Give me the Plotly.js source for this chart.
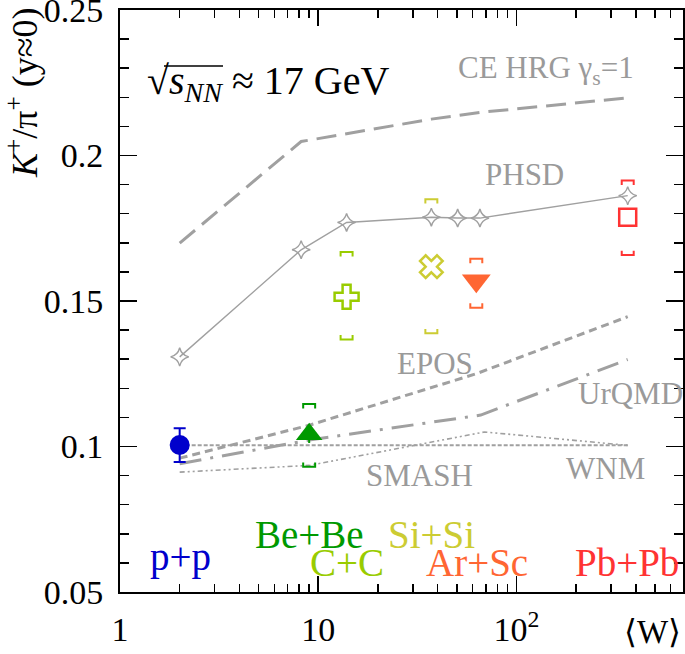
<!DOCTYPE html>
<html>
<head>
<meta charset="utf-8">
<script src="https://cdn.plot.ly/plotly-3.0.1.min.js"></script>
<style>html,body{margin:0;padding:0;background:#fff;}#chart{width:685px;height:654px;}</style>
</head>
<body>
<div id="chart"></div>
<script>
// ---------- data ----------
var systems   = ['p+p', 'Be+Be', 'C+C', 'Si+Si', 'Ar+Sc', 'Pb+Pb'];
var sysW      = [2.0, 9.0, 13.9, 37.2, 62.7, 364];
var sysRatio  = [0.1005, 0.1042, 0.1515, 0.1618, 0.1570, 0.1788];
var statErr   = [0.0058, 0.0030, 0, 0, 0, 0];
var sysHigh   = [null, 0.1146, 0.1668, 0.1850, 0.1645, 0.1914];
var sysLow    = [null, 0.0930, 0.1368, 0.1389, 0.1477, 0.1658];
var sysColors = ['#0000cc', '#009900', '#99cc00', '#cccc33', '#ff6633', '#ff3333'];
var sysSymbols= ['circle', 'triangle-up', 'cross-open', 'x-open', 'triangle-down', 'square-open'];

var phsdW = [2.0, 8.2, 13.9, 37.2, 50.5, 65.4, 364];
var phsdY = [0.1308, 0.1676, 0.1770, 0.1788, 0.1785, 0.1785, 0.1862];

var ceW = [2.0, 8.2, 13.9, 37.2, 65.4, 364];
var ceY = [0.1699, 0.2048, 0.2075, 0.2125, 0.2148, 0.2198];

var eposW = [2.0, 9.0, 62.7, 364];
var eposY = [0.0960, 0.1073, 0.1250, 0.1446];

var urqmdW = [2.0, 9.0, 66, 364];
var urqmdY = [0.0941, 0.1022, 0.1108, 0.1299];

var smashW = [2.0, 9.0, 69, 364];
var smashY = [0.0912, 0.0935, 0.1050, 0.1004];

var wnmW = [2.0, 364];
var wnmY = [0.1004, 0.1004];

var xTickVals = [1, 10, 100];
var xTickText = ['1', '10', '10<sup>2</sup>'];
var xMinorVals = [2,3,4,5,6,7,8,9,20,30,40,50,60,70,80,90,200,300,400,500,600];
var yTickVals = [0.05, 0.1, 0.15, 0.2, 0.25];
var yTickText = ['0.05', '0.1', '0.15', '0.2', '0.25'];

// ---------- styling ----------
var FONT = 'Liberation Serif, Times New Roman, serif';
var GRAY = '#a0a0a0';
var GRAYTXT = '#9a9a9a';

var traces = [];

function modelLine(xs, ys, dash, width) {
  return {x: xs, y: ys, mode: 'lines', type: 'scatter', hoverinfo: 'skip',
          line: {color: GRAY, width: width, dash: dash}};
}
traces.push(modelLine(ceW, ceY, '20px,9px', 3));
traces.push(modelLine(eposW, eposY, '8px,5px', 3));
traces.push(modelLine(urqmdW, urqmdY, '22px,9px,3px,9px', 3));
traces.push(modelLine(smashW, smashY, '5px,3px,2px,3px,2px,3px', 1.6));
traces.push(modelLine(wnmW, wnmY, '4px,2px', 2));
traces.push({x: phsdW, y: phsdY, mode: 'lines+markers', type: 'scatter', hoverinfo: 'skip',
  line: {color: GRAY, width: 1.4},
  marker: {symbol: 'star-diamond-open', size: 13, color: GRAY, line: {color: '#8c8c8c', width: 1.4}}});

// systematic-uncertainty brackets built from the data arrays
var bf = 1.072;      // half width factor on log axis
var leg = 0.0015;    // leg length in y
for (var i = 0; i < systems.length; i++) {
  if (sysHigh[i] === null) continue;
  var w = sysW[i];
  traces.push({
    x: [w/bf, w/bf, w*bf, w*bf, null, w/bf, w/bf, w*bf, w*bf],
    y: [sysHigh[i]-leg, sysHigh[i], sysHigh[i], sysHigh[i]-leg, null,
        sysLow[i]+leg, sysLow[i], sysLow[i], sysLow[i]+leg],
    mode: 'lines', type: 'scatter', hoverinfo: 'skip',
    line: {color: sysColors[i], width: 2}
  });
}
// data points
var sizes = [20, 23, 20, 20, 25, 17];
for (var j = 0; j < systems.length; j++) {
  var open = sysSymbols[j].indexOf('open') >= 0;
  var tr = {x: [sysW[j]], y: [sysRatio[j]], mode: 'markers', type: 'scatter', hoverinfo: 'skip',
    marker: {symbol: sysSymbols[j], size: sizes[j], color: sysColors[j],
             line: {color: sysColors[j], width: open ? 2.5 : 0}}};
  if (statErr[j] > 0) {
    tr.error_y = {type: 'data', array: [statErr[j]], visible: true, color: sysColors[j],
                  thickness: 2, width: (j === 0 ? 6 : 0)};
  }
  traces.push(tr);
}

function px2paperX(px) { return (px - 120) / 563; }
function px2paperY(py) { return (592 - py) / 582; }

function label(text, cx, cy, size, color, extra) {
  var a = {text: text, xref: 'paper', yref: 'paper', x: px2paperX(cx), y: px2paperY(cy),
           xanchor: 'center', yanchor: 'middle', showarrow: false,
           font: {family: FONT, size: size, color: color}};
  if (extra) for (var k in extra) a[k] = extra[k];
  return a;
}

var annotations = [
  // system labels
  label(systems[0], 180, 557, 39, sysColors[0]),
  label(systems[1], 309, 534, 39, sysColors[1]),
  label(systems[2], 347, 562, 39, sysColors[2]),
  label(systems[3], 431, 534, 39, sysColors[3]),
  label(systems[4], 477, 562, 39, sysColors[4]),
  label(systems[5], 627, 562, 39, sysColors[5]),
  // model labels
  label('CE HRG γ<sub>s</sub>=1', 546, 70, 31, GRAYTXT),
  label('PHSD', 524, 174, 31, GRAYTXT),
  label('EPOS', 435, 363, 31, GRAYTXT),
  label('UrQMD', 630, 393, 31, GRAYTXT),
  label('SMASH', 419, 475, 31, GRAYTXT),
  label('WNM', 605, 468, 31, GRAYTXT),
  // energy
  label('√<i>s</i><sub><i>NN</i></sub> ≈ 17 GeV', 268, 83, 40, '#000'),
  // axis titles
  label('⟨W⟩', 654, 632, 33, '#000', {xanchor: 'right', x: 1.0}),
  label('<i>K</i><sup>+</sup>/π<sup>+</sup> (y≈0)', 22, 93, 36, '#000', {textangle: -90})
];

// overline of the square-root sign (decoration, paper coordinates)
var shapes = [{type: 'line', xref: 'paper', yref: 'paper',
  x0: px2paperX(164), x1: px2paperX(223), y0: px2paperY(66), y1: px2paperY(66),
  line: {color: '#000', width: 1.5}}];

var layout = {
  width: 685, height: 654,
  margin: {l: 120, r: 2, t: 10, b: 62, pad: 0},
  paper_bgcolor: '#fff', plot_bgcolor: '#fff',
  showlegend: false,
  font: {family: FONT, color: '#000'},
  xaxis: {
    type: 'log', range: [0, 2.84],
    tickmode: 'array', tickvals: xTickVals, ticktext: xTickText,
    ticks: 'inside', ticklen: 16, tickwidth: 1.5, tickcolor: '#000',
    showline: true, linewidth: 2, linecolor: '#000', mirror: 'allticks',
    showgrid: false, zeroline: false,
    tickfont: {family: FONT, size: 34, color: '#000'},
    ticklabelstandoff: 6, ticklabeloverflow: 'allow',
    minor: {tickmode: 'array', tickvals: xMinorVals, ticks: 'inside', ticklen: 8,
            tickwidth: 1.5, tickcolor: '#000', showgrid: false}
  },
  yaxis: {
    range: [0.05, 0.25], tickmode: 'array', tickvals: yTickVals, ticktext: yTickText,
    ticks: 'inside', ticklen: 17, tickwidth: 1.5, tickcolor: '#000',
    showline: true, linewidth: 2, linecolor: '#000', mirror: 'allticks',
    showgrid: false, zeroline: false,
    tickfont: {family: FONT, size: 34, color: '#000'},
    ticklabelstandoff: 8, ticklabeloverflow: 'allow',
    minor: {dtick: 0.01, tick0: 0.05, ticks: 'inside', ticklen: 9, tickwidth: 1.5, tickcolor: '#000', showgrid: false}
  },
  shapes: shapes,
  annotations: annotations
};

Plotly.newPlot('chart', traces, layout, {displayModeBar: false, staticPlot: true});
</script>
</body>
</html>
